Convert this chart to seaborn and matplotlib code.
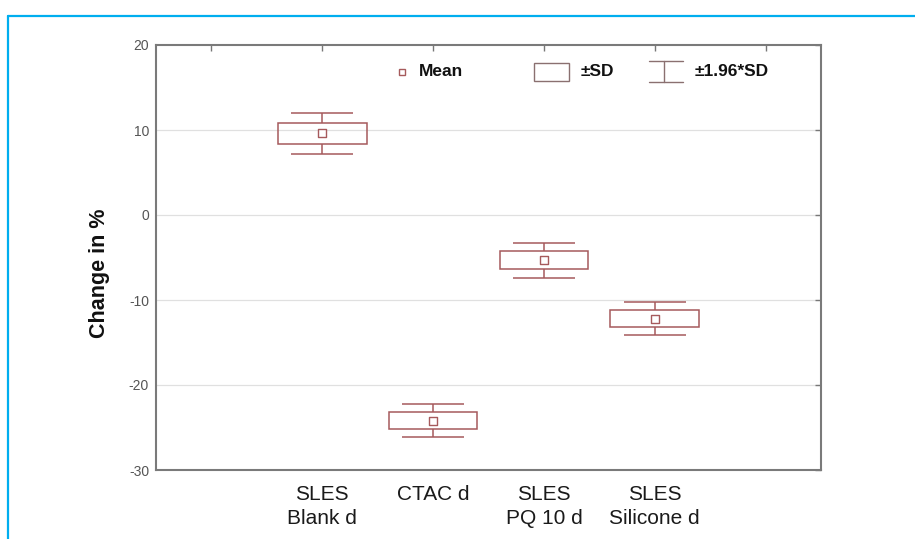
import pandas as pd
import matplotlib
matplotlib.use("Agg")
import matplotlib.pyplot as plt
from matplotlib.lines import Line2D
from matplotlib.patches import Rectangle
import seaborn as sns

# values
categories = ["SLES\nBlank d", "CTAC d", "SLES\nPQ 10 d", "SLES\nSilicone d"]
means = [9.6, -24.2, -5.35, -12.2]
sds = [1.25, 1.0, 1.06, 1.0]
yticks = [-30, -20, -10, 0, 10, 20]

df = pd.DataFrame({"category": categories, "mean": means, "sd": sds})
df["pos"] = range(1, len(df) + 1)
df["lo1"] = df["mean"] - df["sd"]
df["hi1"] = df["mean"] + df["sd"]
df["lo2"] = df["mean"] - 1.96 * df["sd"]
df["hi2"] = df["mean"] + 1.96 * df["sd"]

sns.set_style("white")
plt.rcParams["font.family"] = ["Liberation Sans", "DejaVu Sans"]

W, H = 915, 539
fig = plt.figure(figsize=(W / 100, H / 100), dpi=100)
ax = fig.add_axes([156 / W, 1 - 470 / H, (821 - 156) / W, (470 - 45) / H])

red = "#a65a5c"
box_w, cap_w = 0.8, 0.56

# grid
for v in yticks[1:-1]:
    ax.axhline(v, color="#e0e0e0", lw=0.9, zorder=0)

# +-SD boxes
ax.bar(df["pos"], df["hi1"] - df["lo1"], bottom=df["lo1"], width=box_w,
       fill=False, edgecolor=red, linewidth=1.1, zorder=2)
# +-1.96 SD whiskers
ax.vlines(df["pos"], df["hi1"], df["hi2"], color=red, lw=1.1, zorder=2)
ax.vlines(df["pos"], df["lo2"], df["lo1"], color=red, lw=1.1, zorder=2)
ax.hlines(df["hi2"], df["pos"] - cap_w / 2, df["pos"] + cap_w / 2, color=red, lw=1.1, zorder=2)
ax.hlines(df["lo2"], df["pos"] - cap_w / 2, df["pos"] + cap_w / 2, color=red, lw=1.1, zorder=2)
# means
sns.scatterplot(data=df, x="pos", y="mean", marker="s", s=26, facecolor="white",
                edgecolor=red, linewidth=1.0, ax=ax, zorder=3, legend=False)

ax.set_xlim(-0.5, 5.5)
ax.set_ylim(-30, 20)
ax.set_xticks(range(0, 6))
ax.set_xticklabels([""] + categories + [""], fontsize=15, color="#1a1a1a", linespacing=1.3)
ax.set_yticks(yticks)
ax.set_yticklabels([str(v) for v in yticks], fontsize=10, color="#555555")
ax.tick_params(axis="both", direction="in", length=4, width=1, color="#777777",
               top=True, right=True)
ax.tick_params(axis="x", pad=11)
ax.tick_params(axis="y", pad=5)
ax.set_xlabel("")
ax.set_ylabel("Change in %", fontsize=15.5, fontweight="bold", color="#111111")
ax.yaxis.label.set_va("center")
ax.yaxis.set_label_coords((100 - 156) / 665, 0.462)
for sp in ax.spines.values():
    sp.set_color("#7a7a7a")
    sp.set_linewidth(1.5)


# legend drawn in pixel coordinates
def fx(px):
    return px / W


def fy(py):
    return 1 - py / H


leg_font = dict(fontsize=12.5, fontweight="bold", color="#111111", va="center")
fig.add_artist(Line2D([fx(402)], [fy(72)], marker="s", markersize=4.5, markerfacecolor="white",
                      markeredgecolor=red, markeredgewidth=1.0, linestyle="none"))
fig.text(fx(419), fy(72), "Mean", **leg_font)
fig.add_artist(Rectangle((fx(534), fy(81)), fx(35), 18 / H, fill=False, edgecolor="#8a7070",
                         linewidth=1.0, transform=fig.transFigure))
fig.text(fx(581), fy(72), "±SD", **leg_font)
fig.add_artist(Line2D([fx(649), fx(683)], [fy(61), fy(61)], color="#8a7070", lw=1.0))
fig.add_artist(Line2D([fx(649), fx(683)], [fy(82), fy(82)], color="#8a7070", lw=1.0))
fig.add_artist(Line2D([fx(664), fx(664)], [fy(61), fy(82)], color="#8a7070", lw=1.0))
fig.text(fx(695), fy(72), "±1.96*SD", **leg_font)

# cyan page frame
fig.add_artist(Line2D([fx(8), 1], [fy(16), fy(16)], color="#00aeef", lw=1.6))
fig.add_artist(Line2D([fx(8), fx(8)], [fy(16), 0], color="#00aeef", lw=1.6))

fig.savefig("out.png", dpi=100)
